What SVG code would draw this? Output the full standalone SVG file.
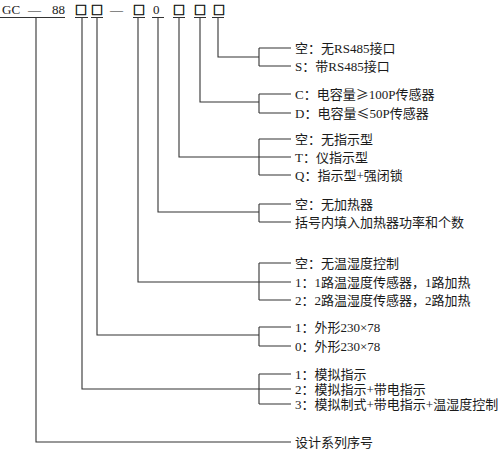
<svg xmlns="http://www.w3.org/2000/svg" width="500" height="452" viewBox="0 0 500 452">
<style>
.t{font-family:"Liberation Serif","Noto Sans CJK SC",serif;font-size:13px;fill:#1a1a1a}
.k{font-family:"Noto Sans CJK SC",sans-serif}
.b{font-family:"Noto Sans CJK SC",sans-serif;font-size:12px;fill:#1a1a1a;stroke:#1a1a1a;stroke-width:0.7;text-anchor:middle}
.c{fill:none;stroke:#333;stroke-width:1.1}
</style>
<rect width="500" height="452" fill="#fff"/>
<g id="code">
<text class="t" x="2" y="14">GC</text>
<text class="t" x="28" y="14">—</text>
<text class="t" x="52" y="14">88</text>
<text class="b" x="81" y="15">□</text>
<text class="b" x="97" y="15">□</text>
<text class="t" x="110" y="14">—</text>
<text class="b" x="139" y="15">□</text>
<text class="t" x="153" y="14">0</text>
<text class="b" x="179" y="15">□</text>
<text class="b" x="200" y="15">□</text>
<text class="b" x="219" y="15">□</text>
<path class="c" d="M0 17.5H65M75 17.5H88M91 17.5H103M133 17.5H145M152 17.5H164M173 17.5H185M194 17.5H206M212 17.5H224"/>
</g>
<g id="connectors">
<path class="c" d="M218 18V57H259M259 48V66M259 48H291M259 66H291"/>
<path class="c" d="M200 18V102H259M259 94V113M259 94H291M259 113H291"/>
<path class="c" d="M179 18V157H291M259 139V175M259 139H291M259 175H291"/>
<path class="c" d="M158 18V212H259M259 204V222M259 204H291M259 222H291"/>
<path class="c" d="M138 18V282H291M259 263V300M259 263H291M259 300H291"/>
<path class="c" d="M97 18V335H259M259 327V346M259 327H291M259 346H291"/>
<path class="c" d="M82 18V389H291M259 374V404M259 374H291M259 404H291"/>
<path class="c" d="M36 18V442H291"/>
</g>
<g id="rs485">
<text class="t" x="295" y="52.5">空：无RS485接口</text>
<text class="t" x="295" y="70.5">S：带RS485接口</text>
</g>
<g id="capacitance">
<text class="t" x="295" y="98.5">C：电容量<tspan class="k">≥</tspan>100P传感器</text>
<text class="t" x="295" y="117.5">D：电容量<tspan class="k">≤</tspan>50P传感器</text>
</g>
<g id="indicator">
<text class="t" x="295" y="143.5">空：无指示型</text>
<text class="t" x="295" y="161.5">T：仪指示型</text>
<text class="t" x="295" y="179.5">Q：指示型+强闭锁</text>
</g>
<g id="heater">
<text class="t" x="295" y="208.5">空：无加热器</text>
<text class="t" x="295" y="226.5">括号内填入加热器功率和个数</text>
</g>
<g id="humidity">
<text class="t" x="295" y="267.5">空：无温湿度控制</text>
<text class="t" x="295" y="286.5">1：1路温湿度传感器，1路加热</text>
<text class="t" x="295" y="304.5">2：2路温湿度传感器，2路加热</text>
</g>
<g id="shape">
<text class="t" x="295" y="331.5">1：外形230×78</text>
<text class="t" x="295" y="350.5">0：外形230×78</text>
</g>
<g id="display">
<text class="t" x="295" y="378.5">1：模拟指示</text>
<text class="t" x="295" y="393.5">2：模拟指示+带电指示</text>
<text class="t" x="295" y="408.5">3：模拟制式+带电指示+温湿度控制</text>
</g>
<g id="series">
<text class="t" x="295" y="446.5">设计系列序号</text>
</g>
</svg>
